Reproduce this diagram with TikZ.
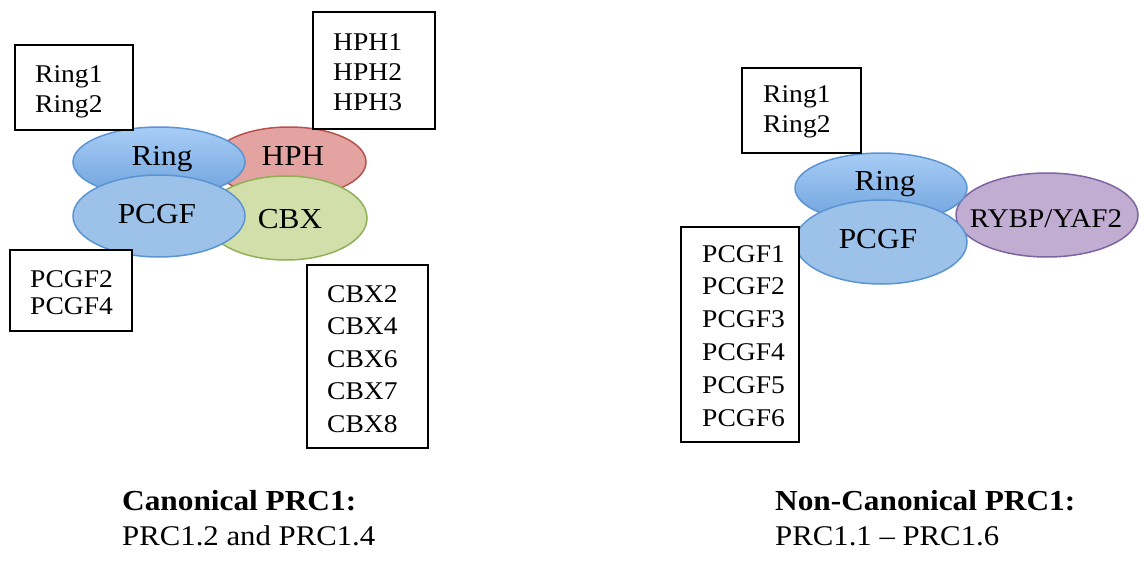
\documentclass[tikz,border=0pt]{standalone}
\usepackage{fontspec}
\setmainfont[FakeStretch=1.08]{Liberation Serif}
\usetikzlibrary{shapes.geometric}
\definecolor{ringtop}{HTML}{A8CDF6}
\definecolor{ringbot}{HTML}{6EA2DD}
\definecolor{blueline}{HTML}{5A94D2}
\definecolor{pcgffill}{HTML}{9DC2E9}
\definecolor{hphfill}{HTML}{E2A3A1}
\definecolor{hphline}{HTML}{B9514D}
\definecolor{cbxfill}{HTML}{D2DFAA}
\definecolor{cbxline}{HTML}{90B058}
\definecolor{rybpfill}{HTML}{C0ADD1}
\definecolor{rybpline}{HTML}{7E64A0}
\tikzset{
  blob/.style={ellipse, inner sep=0pt, line width=1.5pt},
  ringblob/.style={blob, draw=blueline, top color=ringtop, bottom color=ringbot},
  pcgfblob/.style={blob, draw=blueline, fill=pcgffill},
  hphblob/.style={blob, draw=hphline, fill=hphfill},
  cbxblob/.style={blob, draw=cbxline, fill=cbxfill},
  rybpblob/.style={blob, draw=rybpline, fill=rybpfill},
  blobtxt/.style={anchor=base, inner sep=0pt, font=\fontsize{29}{34}\selectfont},
  rybptxt/.style={anchor=base, inner sep=0pt, font=\fontsize{27}{34}\selectfont},
  listbox/.style={draw=black, line width=1.5pt, fill=white},
  listitem/.style={anchor=base west, inner sep=0pt, font=\fontsize{25.5}{30}\selectfont},
  captxt/.style={anchor=base west, inner sep=0pt, font=\fontsize{28.5}{32}\selectfont},
  capbold/.style={anchor=base west, inner sep=0pt, font=\fontsize{29}{32}\selectfont\bfseries},
}
\begin{document}
\begin{tikzpicture}[x=1pt,y=-1pt]
\useasboundingbox (0,0) rectangle (1144,562);
% ---------- Canonical PRC1 ----------
\node[hphblob, minimum width=154pt, minimum height=70pt] (hph) at (289,162) {};
\node[ringblob, minimum width=172pt, minimum height=70pt] (ringL) at (159,162) {};
\node[cbxblob, minimum width=162pt, minimum height=84pt] (cbx) at (286,218) {};
\node[pcgfblob, minimum width=172pt, minimum height=82pt] (pcgfL) at (159,216) {};
\node[blobtxt] (tRingL) at (162,165) {Ring};
\node[blobtxt] (tHPH) at (293,165) {HPH};
\node[blobtxt] (tPCGFL) at (157,223) {PCGF};
\node[blobtxt] (tCBX) at (290,228) {CBX};

\draw[listbox] (15,45) rectangle (133,130);
\node[listitem] (r1) at (35,82) {Ring1};
\node[listitem] (r2) at (35,112) {Ring2};

\draw[listbox] (313,12) rectangle (435,129);
\node[listitem] (h1) at (333,50) {HPH1};
\node[listitem] (h2) at (333,80) {HPH2};
\node[listitem] (h3) at (333,110) {HPH3};

\draw[listbox] (10,250) rectangle (132,331);
\node[listitem] (p2) at (30,287) {PCGF2};
\node[listitem] (p4) at (30,314) {PCGF4};

\draw[listbox] (307,265) rectangle (428,448);
\node[listitem] (c2) at (327,302) {CBX2};
\node[listitem] (c4) at (327,334.5) {CBX4};
\node[listitem] (c6) at (327,367) {CBX6};
\node[listitem] (c7) at (327,399.5) {CBX7};
\node[listitem] (c8) at (327,432) {CBX8};

\node[capbold] (capL1) at (122,510) {Canonical PRC1:};
\node[captxt] (capL2) at (122,545) {PRC1.2 and PRC1.4};

% ---------- Non-canonical PRC1 ----------
\node[rybpblob, minimum width=182pt, minimum height=84pt] (rybp) at (1047,215) {};
\node[ringblob, minimum width=172pt, minimum height=70pt] (ringR) at (881,188) {};
\node[pcgfblob, minimum width=172pt, minimum height=84pt] (pcgfR) at (881,242) {};
\node[blobtxt] (tRingR) at (885,190) {Ring};
\node[blobtxt] (tPCGFR) at (878,248) {PCGF};
\node[rybptxt] (tRYBP) at (1046,227) {RYBP/YAF2};

\draw[listbox] (742,68) rectangle (861,153);
\node[listitem] (rr1) at (763,102) {Ring1};
\node[listitem] (rr2) at (763,132) {Ring2};

\draw[listbox] (681,227) rectangle (799,442);
\node[listitem] (q1) at (702,262) {PCGF1};
\node[listitem] (q2) at (702,294.8) {PCGF2};
\node[listitem] (q3) at (702,327.6) {PCGF3};
\node[listitem] (q4) at (702,360.4) {PCGF4};
\node[listitem] (q5) at (702,393.2) {PCGF5};
\node[listitem] (q6) at (702,426) {PCGF6};

\node[capbold] (capR1) at (775,510) {Non-Canonical PRC1:};
\node[captxt] (capR2) at (775,545) {PRC1.1 – PRC1.6};
\end{tikzpicture}
\end{document}
